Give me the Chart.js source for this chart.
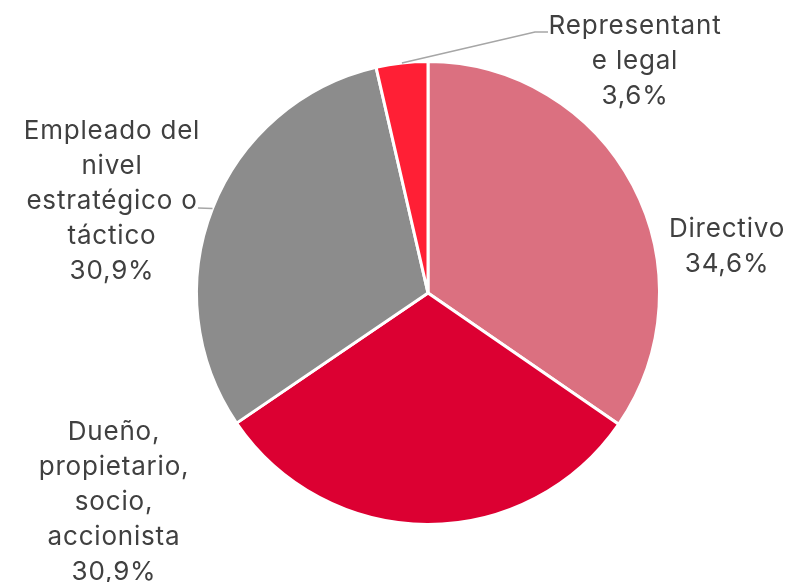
<!DOCTYPE html>
<html>
<head>
<meta charset="utf-8">
<script src="https://cdn.jsdelivr.net/npm/chart.js@4"></script>
<style>
  html, body { margin: 0; padding: 0; background: #fff; }
  #wrap { width: 788px; height: 582px; position: relative; }
</style>
</head>
<body>
<div id="wrap"><canvas id="pie"></canvas></div>
<script>
// données du graphique
const categories = ['Directivo', 'Dueño, propietario, socio, accionista', 'Empleado del nivel estratégico o táctico', 'Representante legal'];
const valeurs = [34.6, 30.9, 30.9, 3.6];
const couleurs = ['#DB7080', '#DC0032', '#8C8C8C', '#FF1F35'];

// libellés tels qu'ils sont coupés dans l'image
const lignesLabels = [
  ['Directivo'],
  ['Dueño,', 'propietario,', 'socio,', 'accionista'],
  ['Empleado del', 'nivel', 'estratégico o', 'táctico'],
  ['Representant', 'e legal']
];

// position du centre du bloc de texte + ligne de rappel
const placeLabels = [
  { x: 727, y: 247, leader: null },
  { x: 114, y: 502, leader: null },
  { x: 112, y: 201, leader: { r: 1.0, to: [198, 208] } },
  { x: 635, y: 61, leader: { r: 1.0, mid: [535, 32], to: [548, 32] } }
];

function formatPct(v) {
  return v.toFixed(1).replace('.', ',') + '%';
}

const labelsPlugin = {
  id: 'labelsExt',
  afterDatasetsDraw(chart) {
    const ctx = chart.ctx;
    const meta = chart.getDatasetMeta(0);
    ctx.save();
    ctx.font = '26px Inter, "Open Sans", sans-serif';
    ctx.letterSpacing = '0.8px';
    ctx.fillStyle = '#404040';
    ctx.textAlign = 'center';
    ctx.textBaseline = 'middle';
    const lh = 35;
    meta.data.forEach((arc, i) => {
      const p = placeLabels[i];
      const lignes = lignesLabels[i].concat([formatPct(valeurs[i])]);
      const y0 = p.y - (lignes.length - 1) * lh / 2;
      lignes.forEach((l, k) => ctx.fillText(l, p.x, y0 + k * lh));
      if (p.leader) {
        const mid = (arc.startAngle + arc.endAngle) / 2;
        const sx = arc.x + Math.cos(mid) * arc.outerRadius * p.leader.r;
        const sy = arc.y + Math.sin(mid) * arc.outerRadius * p.leader.r;
        ctx.strokeStyle = '#A6A6A6';
        ctx.lineWidth = 1.5;
        ctx.beginPath();
        ctx.moveTo(sx, sy);
        if (p.leader.mid) ctx.lineTo(p.leader.mid[0], p.leader.mid[1]);
        ctx.lineTo(p.leader.to[0], p.leader.to[1]);
        ctx.stroke();
      }
    });
    ctx.restore();
  }
};

new Chart(document.getElementById('pie').getContext('2d'), {
  type: 'pie',
  data: {
    labels: categories,
    datasets: [{
      data: valeurs,
      backgroundColor: couleurs,
      borderColor: '#ffffff',
      borderWidth: 3
    }]
  },
  options: {
    responsive: true,
    maintainAspectRatio: false,
    animation: false,
    layout: { padding: { left: 195, right: 127, top: 60, bottom: 56 } },
    plugins: {
      legend: { display: false },
      tooltip: { enabled: false }
    }
  },
  plugins: [labelsPlugin]
});
</script>
</body>
</html>
